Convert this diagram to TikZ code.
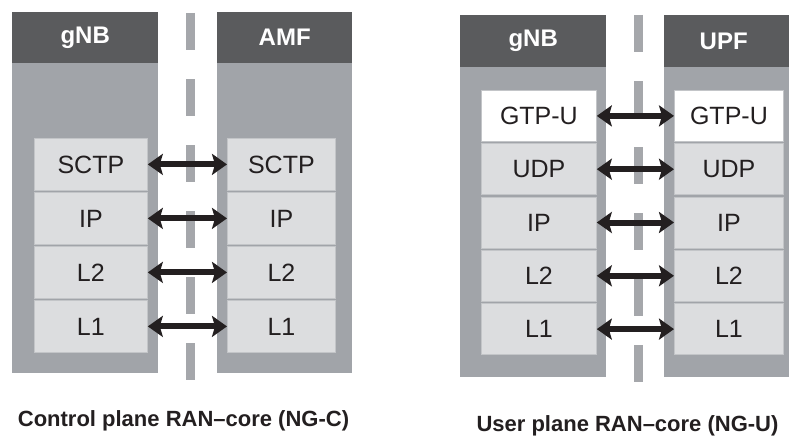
\documentclass[tikz,border=0pt]{standalone}
\usepackage{fontspec}
\setmainfont{Liberation Sans}
\usetikzlibrary{arrows.meta}
\definecolor{hdrgray}{HTML}{5A5B5D}
\definecolor{boxgray}{HTML}{A1A4A9}
\definecolor{laygray}{HTML}{DCDDDF}
\definecolor{laylines}{HTML}{C3C5C8}
\definecolor{dashgray}{HTML}{A5A7AB}
\definecolor{inkblack}{HTML}{231F20}
\begin{document}
\begin{tikzpicture}[x=1pt,y=-1pt,
  entity/.style={fill=boxgray, inner sep=0pt, anchor=north west},
  header/.style={fill=hdrgray, inner sep=0pt, anchor=north west,
    text=white, font=\fontsize{24}{24}\selectfont\bfseries},
  layer/.style={fill=laygray, draw=laylines, line width=0.8pt, inner sep=0pt,
    anchor=north west, text=inkblack, font=\fontsize{25}{25}\selectfont},
  toplayer/.style={layer, fill=white},
  biarrow/.style={draw=inkblack, line width=6pt,
    {Stealth[length=15pt,width=21pt,inset=3pt]}-{Stealth[length=15pt,width=21pt,inset=3pt]}},
  divider/.style={draw=dashgray, line width=9pt, dash pattern=on 37pt off 29pt},
  caption/.style={text=inkblack, font=\fontsize{22}{22}\selectfont\bfseries}
]
\useasboundingbox (0,0) rectangle (789,436);
\fill[white] (0,0) rectangle (789,436);

% ---------- control plane (NG-C) ----------
\coordinate (dcTop) at (190.5,13);
\coordinate (dcBot) at (190.5,380);
\draw[divider] (dcTop) -- (dcBot);

\node[entity, minimum width=146pt, minimum height=361pt] (gnbC) at (12,12) {};
\node[header, minimum width=146pt, minimum height=51pt] (gnbCh) at (12,12) {gNB};
\node[entity, minimum width=135pt, minimum height=361pt] (amf) at (217,12) {};
\node[header, minimum width=135pt, minimum height=51pt] (amfh) at (217,12) {AMF};

\foreach \nm/\txt [count=\i from 0] in {Sctp/SCTP, Ip/IP, Ltwo/L2, Lone/L1}{
  \node[layer, minimum width=113pt, minimum height=52pt] (cL\nm) at (34,138+54*\i) {\txt};
  \node[layer, minimum width=108pt, minimum height=52pt] (cR\nm) at (227,138+54*\i) {\txt};
}
\foreach \nm in {Sctp, Ip, Ltwo, Lone}{
  \draw[biarrow] (cL\nm.east) -- (cR\nm.west);
}
\node[caption] (capC) at (183.5,421) {Control plane RAN--core (NG-C)};

% ---------- user plane (NG-U) ----------
\coordinate (duTop) at (638.5,15);
\coordinate (duBot) at (638.5,382);
\draw[divider] (duTop) -- (duBot);

\node[entity, minimum width=146pt, minimum height=362pt] (gnbU) at (460,15) {};
\node[header, minimum width=146pt, minimum height=52pt] (gnbUh) at (460,15) {gNB};
\node[entity, minimum width=125pt, minimum height=362pt] (upf) at (664,15) {};
\node[header, minimum width=125pt, minimum height=52pt] (upfh) at (664,15) {\hspace*{-6pt}UPF};

\node[toplayer, minimum width=115pt, minimum height=51pt] (uLGtp) at (481,90) {GTP-U};
\node[toplayer, minimum width=109pt, minimum height=51pt] (uRGtp) at (674,90) {GTP-U};
\foreach \nm/\txt [count=\i from 1] in {Udp/UDP, Ip/IP, Ltwo/L2, Lone/L1}{
  \node[layer, minimum width=115pt, minimum height=51pt] (uL\nm) at (481,90+53.3*\i) {\txt};
  \node[layer, minimum width=109pt, minimum height=51pt] (uR\nm) at (674,90+53.3*\i) {\txt};
}
\foreach \nm in {Gtp, Udp, Ip, Ltwo, Lone}{
  \draw[biarrow] (uL\nm.east) -- (uR\nm.west);
}
\node[caption] (capU) at (627.5,426) {User plane RAN--core (NG-U)};
\end{tikzpicture}
\end{document}
